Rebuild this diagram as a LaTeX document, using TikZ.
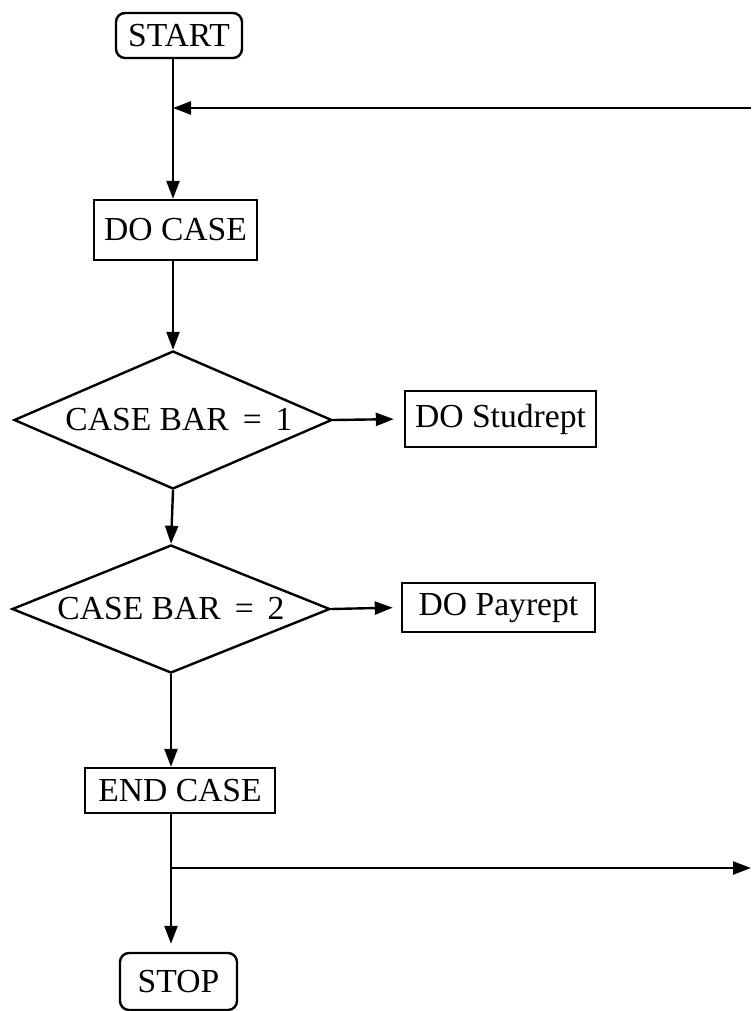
\documentclass[tikz,border=0pt]{standalone}
\usepackage{fontspec}
\setmainfont{Liberation Serif}
\usetikzlibrary{arrows.meta, shapes.geometric}

\begin{document}
\begin{tikzpicture}[x=0.5pt, y=-0.5pt, line width=1.2pt, font=\fontsize{16.8}{20}\selectfont,
	>={Triangle[length=9pt, width=6.5pt]},
	term/.style={draw, rounded corners=4.5pt, inner sep=0pt},
	proc/.style={draw, inner sep=0pt},
	test/.style={draw, diamond, aspect=2.3, inner sep=0pt, minimum width=159pt, minimum height=69pt}]
	\useasboundingbox (0,0) rectangle (751,1011);
	\node[term, minimum width=63pt, minimum height=22.5pt] (start) at (179,35.5) {START};
	\node[proc, minimum width=81.5pt, minimum height=30pt] (docase) at (175.5,230) {DO CASE};
	\node[test] (case1) at (173,420) {\hspace{6pt}CASE BAR\,\ =\ \,1};
	\node[proc, minimum width=95.5pt, minimum height=28pt] (stud) at (500.5,419) {DO Studrept};
	\node[test, minimum height=64pt] (case2) at (171,609) {CASE BAR\,\ =\ \,2\hspace{5pt}};
	\node[proc, minimum width=96.5pt, minimum height=24.5pt] (pay) at (498.5,607.5) {DO Payrept};
	\node[proc, minimum width=95pt, minimum height=22.5pt] (endcase) at (180,790.5) {END CASE};
	\node[term, minimum width=58.5pt, minimum height=28.5pt] (stop) at (178.5,981.5) {STOP};
	\coordinate (back) at (751,108);
	\coordinate (split) at (171,868);
	\coordinate (out) at (751,868);
	\draw[->] (start.south -| case1.north) -- (docase.north -| case1.north);
	\draw[->] (back) -- (back -| case1.north);
	\draw[->] (docase.south -| case1.north) -- (case1.north);
	\draw[->, shorten >=5pt] (case1.east) -- (stud.west);
	\draw[->] (case1.south) -- (case2.north);
	\draw[->, shorten >=4pt] (case2.east) -- (pay.west);
	\draw[->] (case2.south) -- (case2.south |- endcase.north);
	\draw[->, shorten >=4pt] (endcase.south -| case2.south) -- (stop.north -| case2.south);
	\draw[->] (split) -- (out);
\end{tikzpicture}
\end{document}
